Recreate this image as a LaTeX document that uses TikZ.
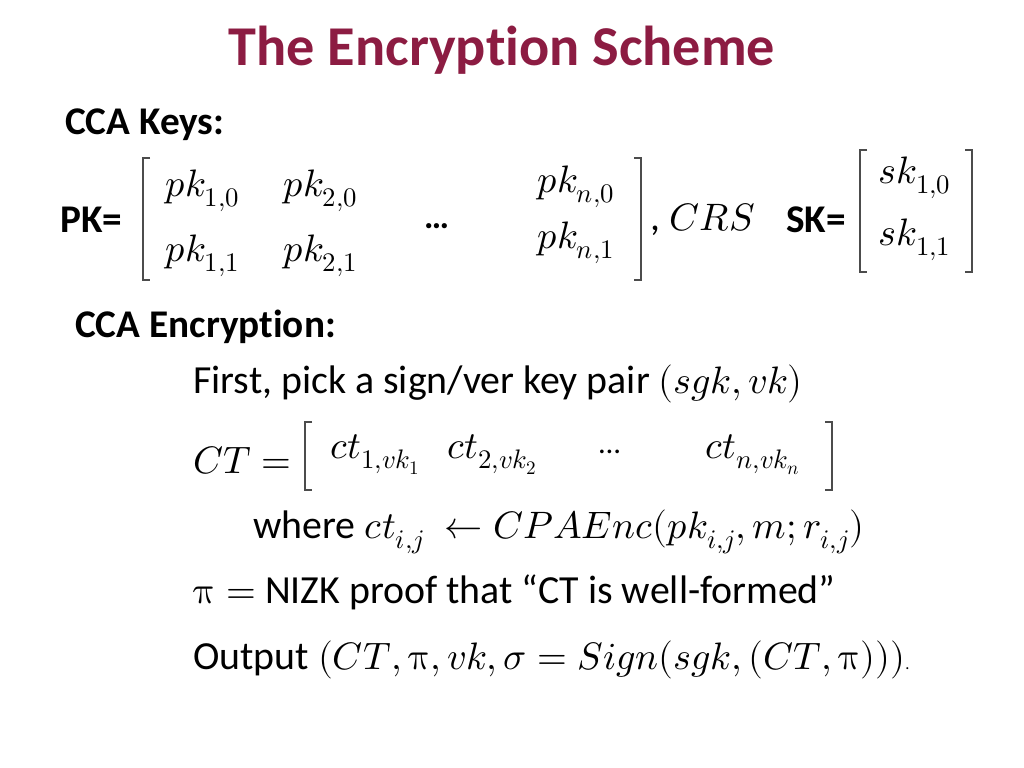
\documentclass[tikz,border=0pt]{standalone}
\usepackage{fontspec}
\usepackage{unicode-math}
\setmainfont{Carlito}[Ligatures=NoCommon]
\setmathfont{Latin Modern Math}[Scale=0.96]
\usetikzlibrary{positioning}
\definecolor{titlered}{RGB}{140,28,66}
\tikzset{
  slidetitle/.style={font=\fontsize{48}{56}\selectfont\bfseries, text=titlered, inner sep=0pt},
  heading/.style={font=\fontsize{33.5}{38}\selectfont\bfseries, anchor=west, inner sep=0pt},
  body/.style={font=\fontsize{34}{40}\selectfont, anchor=west, inner sep=0pt},
  brak/.style={line width=0.9pt, draw=black!70},
}
% square brackets: x, top y, bottom y
\newcommand{\lbrak}[3]{\draw[brak] (#1+7,#2) -- (#1,#2) -- (#1,#3) -- (#1+7,#3);}
\newcommand{\rbrak}[3]{\draw[brak] (#1-7,#2) -- (#1,#2) -- (#1,#3) -- (#1-7,#3);}

\begin{document}
\begin{tikzpicture}[x=0.03cm,y=-0.03cm]
    \useasboundingbox[fill=white] (0,0) rectangle (1024,768);
    \node[slidetitle] (title) at (502,50) {The Encryption Scheme};
    % Keys
    \node[heading] (keys) at (65,125) {CCA Keys:};
    \node[heading] (pk) at (60,220) {PK=};
    \lbrak{143}{158}{280}
    \rbrak{641}{158}{280}
    \node[body] (pk10) at (165,191) {$pk_{1,0}$};
    \node[body] (pk20) at (283,191) {$pk_{2,0}$};
    \node[body] (pkn0) at (537,187) {$pk_{n,0}$};
    \node[body] (pk11) at (165,256) {$pk_{1,1}$};
    \node[body] (pk21) at (283,256) {$pk_{2,1}$};
    \node[body] (pkn1) at (537,243) {$pk_{n,1}$};
    \node[body,font=\fontsize{30}{34}\selectfont\bfseries] (pkdots) at (424,226) {…};
    \node[body] (crs) at (650,220) {, $CRS$};
    \node[heading] (sk) at (786,220) {SK=};
    \lbrak{860}{150}{272}
    \rbrak{972}{150}{272}
    \node[body] (sk10) at (878,178) {$sk_{1,0}$};
    \node[body] (sk11) at (878,240) {$sk_{1,1}$};
    % Encryption
    \node[heading] (enc) at (75,327) {CCA Encryption:};
    \node[body] (pick) at (193,384) {First, pick a sign/ver key pair $(sgk,vk)$};
    \node[body] (ct) at (193,460) {$CT=$};
    \lbrak{305}{422}{490}
    \rbrak{832}{422}{490}
    \node[body] (ct1) at (330,455) {$ct_{1,vk_1}$};
    \node[body] (ct2) at (447,455) {$ct_{2,vk_2}$};
    \node[body,font=\fontsize{26}{30}\selectfont] (ctdots) at (599,452) {…};
    \node[body] (ctn) at (705,455) {$ct_{n,vk_n}$};
    \node[body] (where) at (253,532) {where $ct_{i,j}\ \leftarrow CPAEnc(pk_{i,j},m;r_{i,j})$};
    \node[body] (proof) at (193,592) {$\symup{\pi}=$ NIZK proof that “CT is well-formed”};
    \node[body] (out) at (193,660) {Output $(CT,\symup{\pi},vk,\sigma=Sign(sgk,(CT,\symup{\pi})))${\fontsize{14}{16}\selectfont.}};
\end{tikzpicture}
\end{document}
